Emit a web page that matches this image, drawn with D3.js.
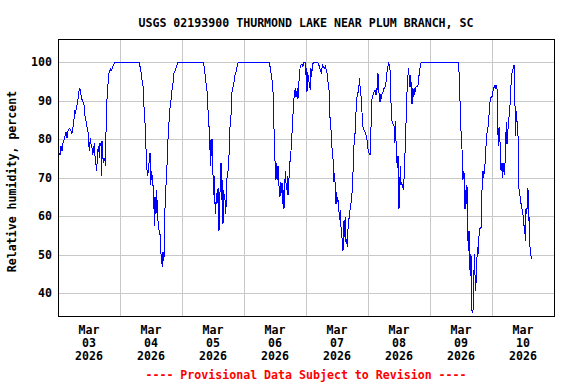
<!DOCTYPE html>
<html>
<head>
<meta charset="utf-8">
<script src="https://cdn.jsdelivr.net/npm/d3@7"></script>
<style>
  body { margin: 0; background: #fff; }
  text { font-family: "DejaVu Sans Mono", monospace; font-weight: bold; font-size: 11.6px; }
</style>
</head>
<body>
<svg id="chart" width="576" height="384"></svg>
<script>
// USGS style relative humidity plot, one week of provisional data

var title = "USGS 02193900 THURMOND LAKE NEAR PLUM BRANCH, SC";
var yLabel = "Relative humidity, percent";
var footer = "---- Provisional Data Subject to Revision ----";
var yTicks = [40, 50, 60, 70, 80, 90, 100];
var dayLabels = ["03", "04", "05", "06", "07", "08", "09", "10"];

// [hours since Mar 03 2026 00:00, relative humidity %]
var readings = [
  [0.26,76.5],[0.77,76],[1.16,78.2],[1.55,77],[2.06,79.6],[2.45,80],[3.1,81.8],[3.48,80.4],[3.87,82.2],[4.39,82.8],
  [4.9,82.6],[5.29,81.3],[5.68,82.6],[6.06,84],[6.45,87.5],[6.71,87],[7.23,88.3],[7.74,90.5],[8.26,93.2],[8.77,92.7],
  [9.03,90.5],[9.55,90.1],[10.06,88.8],[10.45,86.1],[10.84,84.8],[11.23,83.1],[11.61,81.8],[11.87,79.1],[12.13,76.9],[12.52,80.4],
  [12.77,78.7],[13.16,77.8],[13.42,76],[13.81,77.4],[14.06,79.1],[14.32,75.6],[14.71,73.4],[14.97,71.7],[15.35,76.9],[15.74,78.2],
  [16,75.2],[16.26,79.1],[16.65,78.2],[16.77,70.5],[17.03,79.6],[17.29,75.6],[17.68,73.9],[18.06,75.2],[18.45,73],[18.58,81.8],
  [18.84,89.2],[19.23,92.7],[19.48,96.2],[19.87,97.5],[20.39,98.2],[20.77,98],[21.16,98.9],[21.55,99.3],[21.94,100],[31.48,100],
  [31.87,98.4],[32.13,97.5],[32.52,95.4],[32.9,94],[33.16,89.2],[33.55,86.6],[33.94,80],[34.32,73],[34.71,70.4],[35.1,73],
  [35.61,76.5],[35.87,68.2],[36.26,71.7],[36.65,68.6],[37.03,66.8],[37.29,57.6],[37.55,65.1],[37.94,60.7],[38.19,66.8],[38.58,59.8],
  [38.97,56.8],[39.36,55.9],[39.61,54.6],[39.87,50.2],[40.13,48.4],[40.39,46.8],[40.65,50.6],[40.9,48.4],[41.16,50.6],[41.42,62],
  [41.81,68.2],[42.19,73],[42.58,80],[42.97,84.4],[43.36,88.3],[43.74,90.1],[44.13,92.7],[44.52,94.5],[44.9,97.1],[45.42,98],
  [45.94,98.9],[46.32,100],[56.26,100],[56.65,98.4],[57.03,96.2],[57.42,94],[57.81,91.8],[58.06,87.5],[58.32,84.4],[58.71,81.3],
  [58.97,73],[59.23,80],[59.48,75.6],[59.74,80],[60,70.8],[60.26,65.5],[60.52,70.4],[60.77,63.3],[61.03,60.7],[61.29,66.1],
  [61.55,63.3],[61.81,66.8],[62.06,67.2],[62.32,56.3],[62.58,62.5],[62.84,69.9],[63.1,73.9],[63.35,64.2],[63.61,69.5],[63.87,58.1],
  [64.13,66.8],[64.39,65.1],[64.65,64.2],[64.9,60.7],[65.16,64.2],[65.42,69.9],[65.81,71.7],[66.19,75.6],[66.58,83.1],[66.97,86.1],
  [67.35,92.3],[67.74,93.6],[68.13,94.9],[68.52,96.7],[68.9,97.5],[69.42,99.1],[69.81,100],[81.81,100],[82.19,98.4],[82.58,96.7],
  [82.97,94.9],[83.23,92.3],[83.48,88.8],[83.74,77.4],[84.13,73],[84.39,69.5],[84.65,73.9],[84.9,69.5],[85.16,73],[85.42,69],
  [85.68,66.8],[85.94,65.1],[86.19,69],[86.45,66.1],[86.71,68.6],[86.97,63.3],[87.23,66.8],[87.48,62],[87.74,67.2],[88,71.7],
  [88.26,68.6],[88.52,66.8],[88.77,70.4],[89.03,65.5],[89.29,68.6],[89.55,71.2],[89.81,74.3],[90.06,75.6],[90.45,80],[90.84,84.4],
  [91.23,90.1],[91.61,92.3],[91.87,93.2],[92.13,91],[92.39,91.8],[92.65,93.2],[92.9,90.5],[93.29,94.9],[93.68,98.4],[94.06,99.3],
  [94.45,99.5],[94.84,98.9],[95.23,100],[95.61,100],[95.87,96.7],[96.13,98.4],[96.39,92.3],[96.65,97.5],[96.9,95.8],[97.03,96.2],
  [97.29,93.6],[97.68,93.2],[97.94,98.4],[98.19,96.2],[98.45,98.9],[98.71,99.7],[99.1,100],[100.26,100],[100.77,99.7],[101.16,98.9],
  [101.55,98],[101.94,97.1],[102.32,99.3],[102.71,98.9],[103.1,98.4],[103.48,98.9],[103.87,98],[104.26,96.7],[104.65,94],[105.03,92.3],
  [105.29,85.7],[105.55,84.4],[105.81,80.4],[106.19,76.5],[106.58,74.3],[106.84,69],[107.1,71.2],[107.35,66.8],[107.61,63.3],[107.87,66.4],
  [108.13,63.8],[108.39,64.2],[108.77,61.1],[109.03,59],[109.29,61.6],[109.55,57.2],[109.81,54.6],[110.06,54.1],[110.32,51.1],[110.71,59],
  [110.97,54.6],[111.23,59.8],[111.48,53.2],[111.74,54.1],[112,51.9],[112.26,56.8],[112.65,59.4],[113.03,61.6],[113.42,63.3],[113.81,66.1],
  [114.19,71.2],[114.45,76],[114.71,80.9],[115.1,81.8],[115.48,89.6],[115.87,91.8],[116.26,92.3],[116.52,94],[116.77,95.8],[117.03,92.3],
  [117.29,91.4],[117.55,88.8],[117.94,83.5],[118.32,82.6],[118.71,82.2],[119.1,81.3],[119.48,80.9],[119.74,78.7],[120.13,76.9],[120.39,76.5],
  [120.77,76],[121.03,76.9],[121.29,88.3],[121.55,90.5],[121.94,91.4],[122.32,92.3],[122.71,92.7],[123.1,91.4],[123.35,93.2],[123.61,92.7],
  [123.87,97.1],[124.13,93.6],[124.39,90.5],[124.65,89.6],[124.9,91.4],[125.16,91],[125.42,91.8],[125.81,92.3],[126.19,93.2],[126.58,93.6],
  [126.97,94.9],[127.35,97.5],[127.74,98.9],[128,99.7],[128.26,99.3],[128.52,98],[128.77,94.9],[129.03,84.8],[129.29,84.8],[129.68,84],
  [130.06,83.5],[130.32,79.1],[130.58,84.8],[130.84,79.6],[131.1,75.6],[131.35,72.5],[131.61,75.6],[131.74,64.2],[132,62],[132.26,67.2],
  [132.52,73],[132.77,68.2],[133.03,69],[133.29,67.7],[133.68,67.2],[134.06,70.8],[134.45,79.1],[134.84,86.6],[135.23,94.9],[135.48,96.7],
  [135.74,98.4],[136,95.4],[136.26,93.6],[136.52,96.7],[136.77,93.2],[137.03,89.2],[137.29,93.2],[137.55,91],[137.81,93.2],[138.06,91.4],
  [138.32,93.2],[138.58,93.6],[138.97,93.6],[139.35,94],[139.61,95.8],[140,98],[140.39,99.7],[140.9,100],[154.97,100],[155.23,97.5],
  [155.48,95.8],[155.74,84.8],[156.13,80.9],[156.52,75.6],[156.77,69.5],[157.03,71.7],[157.29,70.8],[157.55,62],[157.81,66.8],[158.06,63.3],
  [158.32,68.2],[158.58,56.3],[158.84,51.1],[159.1,56.3],[159.35,48],[159.61,44.5],[159.87,50.2],[160.13,36.1],[160.39,35],[160.65,35.5],
  [160.9,42],[161.16,50.2],[161.42,44.9],[161.68,40.5],[161.94,44.5],[162.19,49.3],[162.45,51.9],[162.58,50.2],[162.84,54.1],[163.35,56.8],
  [163.74,56.8],[164,62],[164.26,71.2],[164.52,71.7],[164.77,69.9],[165.03,71.7],[165.29,73.4],[165.55,76],[165.81,80.4],[166.19,82.2],
  [166.58,83.5],[166.97,87.5],[167.35,90.5],[167.74,91],[168.13,91],[168.52,93.2],[168.9,93.6],[169.16,94],[169.42,93.2],[169.68,94],
  [169.94,93.2],[170.19,84.4],[170.45,78.2],[170.71,83.1],[170.97,81.1],[171.23,77.4],[171.48,72.1],[171.74,73.9],[172,69.9],[172.26,73.9],
  [172.52,72.1],[172.77,70.8],[173.03,73.9],[173.29,78.7],[173.55,84.4],[173.81,78.7],[174.06,80.9],[174.32,84],[174.71,86.6],[175.1,90.1],
  [175.48,95.8],[175.87,98],[176.26,98.4],[176.52,99.3],[176.77,97.5],[177.03,80.9],[177.29,87.5],[177.55,84.4],[177.81,84.8],[178.06,80.9],
  [178.32,67.3],[178.58,66.8],[178.97,64.6],[179.23,63.3],[179.48,62.5],[179.87,61.1],[180.13,59.8],[180.39,57.6],[180.65,57.2],[180.9,53.7],
  [181.16,62],[181.42,60.7],[181.68,63.3],[181.94,67.3],[182.06,58.9],[182.19,66.8],[182.45,54.1],[182.71,51.9],[182.97,50.6],[183.23,48.9]
];

var svg = d3.select("#chart");
var margin = {top: 39, right: 22, bottom: 68, left: 58};
var width = +svg.attr("width") - margin.left - margin.right;
var height = +svg.attr("height") - margin.top - margin.bottom;

var start = new Date(2026, 2, 3);
var end = new Date(2026, 2, 11);

var x = d3.scaleTime()
    .domain([start, end])
    .range([margin.left, margin.left + width]);

var y = d3.scaleLinear()
    .domain([34.1, 106.05])
    .range([margin.top + height, margin.top]);

var days = d3.timeDay.range(start, end);

// grid
svg.append("g")
  .selectAll("line")
  .data(days.slice(1))
  .join("line")
    .attr("x1", d => Math.round(x(d)) + 0.5)
    .attr("x2", d => Math.round(x(d)) + 0.5)
    .attr("y1", margin.top)
    .attr("y2", margin.top + height)
    .attr("stroke", "#c8c8c8")
    .attr("stroke-width", 1);

svg.append("g")
  .selectAll("line")
  .data(yTicks)
  .join("line")
    .attr("x1", margin.left)
    .attr("x2", margin.left + width)
    .attr("y1", d => Math.round(y(d)) + 0.5)
    .attr("y2", d => Math.round(y(d)) + 0.5)
    .attr("stroke", "#c8c8c8")
    .attr("stroke-width", 1);

// data line
var line = d3.line()
    .x(d => x(d3.timeMinute.offset(start, Math.round(d[0] * 60))))
    .y(d => y(d[1]));

svg.append("path")
    .datum(readings)
    .attr("d", line)
    .attr("fill", "none")
    .attr("stroke", "#0000ff")
    .attr("stroke-width", 1)
    .style("shape-rendering", "crispEdges");

// frame
svg.append("rect")
    .attr("x", margin.left + 0.5)
    .attr("y", margin.top + 0.5)
    .attr("width", width)
    .attr("height", height)
    .attr("fill", "none")
    .attr("stroke", "#000")
    .attr("stroke-width", 1);

// y tick labels
svg.append("g")
  .selectAll("text")
  .data(yTicks)
  .join("text")
    .attr("x", margin.left - 6)
    .attr("y", d => y(d) + 4)
    .attr("text-anchor", "end")
    .text(d => d);

// x tick labels at noon of each day
var xl = svg.append("g")
  .selectAll("text")
  .data(days)
  .join("text")
    .attr("text-anchor", "middle")
    .attr("transform", d => "translate(" + x(d3.timeHour.offset(d, 12)) + ",334)");

xl.append("tspan").attr("x", 0).attr("dy", 0).text("Mar");
xl.append("tspan").attr("x", 0).attr("dy", 13).text((d, i) => dayLabels[i]);
xl.append("tspan").attr("x", 0).attr("dy", 13).text("2026");

svg.append("text")
    .attr("x", margin.left + width / 2)
    .attr("y", 27)
    .attr("text-anchor", "middle")
    .text(title);

svg.append("text")
    .attr("transform", "translate(16," + (margin.top + height / 2 + 4) + ") rotate(-90)")
    .attr("text-anchor", "middle")
    .text(yLabel);

svg.append("text")
    .attr("x", margin.left + width / 2)
    .attr("y", 379)
    .attr("text-anchor", "middle")
    .attr("fill", "#ff0000")
    .text(footer);
</script>
</body>
</html>
